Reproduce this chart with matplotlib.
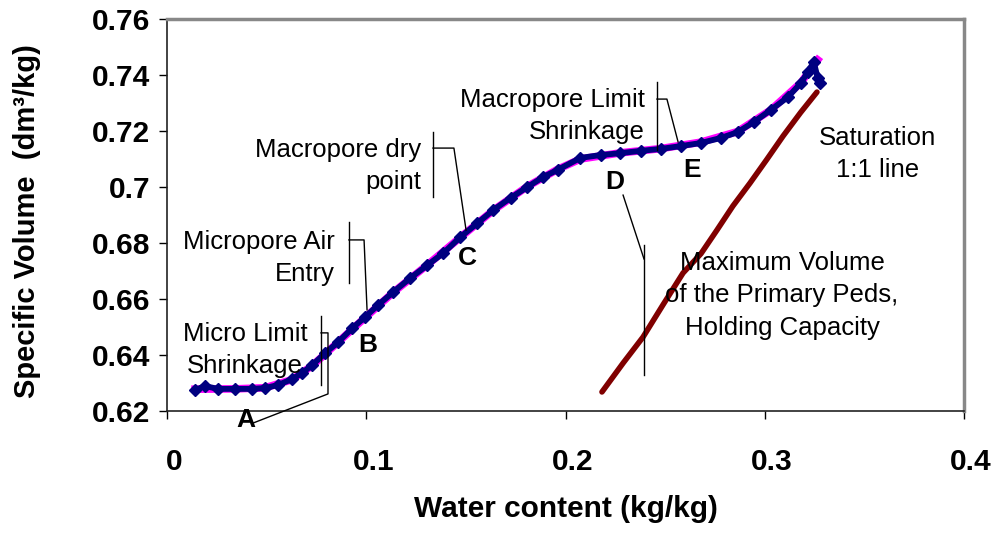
import matplotlib
matplotlib.use("Agg")
import matplotlib.pyplot as plt
import matplotlib.transforms as mtransforms
from matplotlib.ticker import FixedLocator, FuncFormatter

plt.rcParams['font.family'] = ['Liberation Sans', 'DejaVu Sans']

# measured shrinkage curve (water content kg/kg, specific volume dm3/kg)
water = [0.0141, 0.0191, 0.0256, 0.0342, 0.0427, 0.0492, 0.0558, 0.0628, 0.0678,
         0.0729, 0.0794, 0.0859, 0.0930, 0.0995, 0.1060, 0.1136, 0.1221, 0.1307,
         0.1387, 0.1472, 0.1558, 0.1638, 0.1724, 0.1809, 0.1889, 0.1960, 0.2075,
         0.2176, 0.2276, 0.2377, 0.2477, 0.2578, 0.2678, 0.2779, 0.2864, 0.2945,
         0.3030, 0.3116, 0.3181, 0.3216, 0.3246, 0.3266, 0.3276]
volume = [0.6275, 0.6289, 0.6279, 0.6279, 0.6279, 0.6282, 0.6293, 0.6314, 0.6336,
          0.6364, 0.6407, 0.6446, 0.6496, 0.6536, 0.6579, 0.6625, 0.6675, 0.6721,
          0.6764, 0.6821, 0.6871, 0.6918, 0.6961, 0.7000, 0.7036, 0.7061, 0.7104,
          0.7114, 0.7121, 0.7129, 0.7136, 0.7146, 0.7157, 0.7175, 0.7196, 0.7232,
          0.7275, 0.7321, 0.7371, 0.7411, 0.7446, 0.7389, 0.7371]

# fitted curve (magenta)
fit_water = [0.0141, 0.0342, 0.0492, 0.0628, 0.0729, 0.0859, 0.0995, 0.1136, 0.1307,
             0.1472, 0.1638, 0.1809, 0.1960, 0.2075, 0.2276, 0.2477, 0.2678, 0.2864,
             0.3030, 0.3181, 0.3266]
fit_volume = [0.6278, 0.6279, 0.6283, 0.6312, 0.6362, 0.6446, 0.6534, 0.6624, 0.6722,
              0.6820, 0.6917, 0.7002, 0.7063, 0.7100, 0.7122, 0.7137, 0.7160, 0.7198,
              0.7275, 0.7372, 0.7454]

# saturation 1:1 line
sat_water = [0.2183, 0.2290, 0.2389, 0.2490, 0.2590, 0.2680, 0.2760, 0.2840,
             0.2926, 0.3010, 0.3092, 0.3180, 0.3262]
sat_volume = [0.6268, 0.6372, 0.6464, 0.6580, 0.6693, 0.6762, 0.6846, 0.6932,
              0.7014, 0.7098, 0.7182, 0.7266, 0.7339]

xticks = [0, 0.1, 0.2, 0.3, 0.4]
yticks = [0.62, 0.64, 0.66, 0.68, 0.70, 0.72, 0.74, 0.76]

fig = plt.figure(figsize=(9.96, 5.39), dpi=100)
ax = fig.add_axes([167 / 996, 1 - 411 / 539, 797 / 996, 392 / 539])

ax.plot(sat_water, sat_volume, color='#800000', lw=4, solid_capstyle='round', zorder=2)
ax.plot(fit_water, fit_volume, color='#FF00FF', lw=5.5, zorder=3)
ax.plot(water, volume, color='#000080', lw=4.2, marker='D', ms=6.5, zorder=4)

ax.set_xlim(0, 0.4)
ax.set_ylim(0.62, 0.76)
ax.xaxis.set_major_locator(FixedLocator(xticks))
ax.yaxis.set_major_locator(FixedLocator(yticks))
fmt = FuncFormatter(lambda v, p: f'{v:g}')
ax.xaxis.set_major_formatter(fmt)
ax.yaxis.set_major_formatter(fmt)
ax.tick_params(axis='both', direction='out', length=6, width=1, labelsize=21.5)
ax.tick_params(axis='x', pad=21)
ax.tick_params(axis='y', pad=6)
for lab in ax.get_xticklabels() + ax.get_yticklabels():
    lab.set_fontweight('bold')
shift = mtransforms.ScaledTranslation(0.07, 0, fig.dpi_scale_trans)
for lab in ax.get_xticklabels():
    lab.set_transform(lab.get_transform() + shift)

for side in ['top', 'right']:
    ax.spines[side].set_color('#888888')
    ax.spines[side].set_linewidth(2.5)
for side in ['left', 'bottom']:
    ax.spines[side].set_color('#222222')
    ax.spines[side].set_linewidth(1.2)

fig.text(566 / 996, 1 - 509 / 539, 'Water content (kg/kg)', fontsize=21.5,
         fontweight='bold', ha='center', va='center')
fig.text(27 / 996, 1 - 221 / 539, 'Specific Volume  (dm³/kg)', rotation=90,
         fontsize=21, fontweight='bold', ha='center', va='center')

# callout brackets
line_kw = dict(color='black', lw=1, clip_on=False, zorder=5)
ax.plot([0.0773, 0.0773], [0.6539, 0.6293], **line_kw)
ax.plot([0.0773, 0.0808, 0.0808, 0.0432], [0.6479, 0.6479, 0.6261, 0.6157], **line_kw)

ax.plot([0.0913, 0.0913], [0.6875, 0.6657], **line_kw)
ax.plot([0.0913, 0.0989, 0.1004], [0.6811, 0.6811, 0.6561], **line_kw)

ax.plot([0.1335, 0.1335], [0.7196, 0.6964], **line_kw)
ax.plot([0.1335, 0.1440, 0.1501], [0.7139, 0.7139, 0.6846], **line_kw)

ax.plot([0.2459, 0.2459], [0.7375, 0.7132], **line_kw)
ax.plot([0.2459, 0.2509, 0.2565], [0.7314, 0.7314, 0.7161], **line_kw)

ax.plot([0.2289, 0.2394], [0.6971, 0.6743], **line_kw)
ax.plot([0.2394, 0.2394], [0.6793, 0.6329], **line_kw)

txt_kw = dict(fontsize=18.5, linespacing=1.45, zorder=6)
ax.text(0.0391, 0.6418, 'Micro Limit\nShrinkage', ha='center', va='center', **txt_kw)
ax.text(0.0843, 0.6746, 'Micropore Air\nEntry', ha='right', va='center',
        multialignment='right', **txt_kw)
ax.text(0.1275, 0.7075, 'Macropore dry\npoint', ha='right', va='center',
        multialignment='right', **txt_kw)
ax.text(0.2399, 0.7254, 'Macropore Limit\nShrinkage', ha='right', va='center',
        multialignment='right', **txt_kw)
ax.text(0.3087, 0.6614, 'Maximum Volume\nof the Primary Peds,\nHolding Capacity',
        ha='center', va='center', **txt_kw)
ax.text(0.3568, 0.7118, 'Saturation\n1:1 line', ha='center', va='center', **txt_kw)

let_kw = dict(fontsize=19, fontweight='bold', ha='center', va='center', clip_on=False, zorder=6)
ax.text(0.0396, 0.6168, 'A', **let_kw)
ax.text(0.1009, 0.6436, 'B', **let_kw)
ax.text(0.1506, 0.6746, 'C', **let_kw)
ax.text(0.2248, 0.7018, 'D', **let_kw)
ax.text(0.2635, 0.7061, 'E', **let_kw)

fig.savefig('out.png', dpi=100)
